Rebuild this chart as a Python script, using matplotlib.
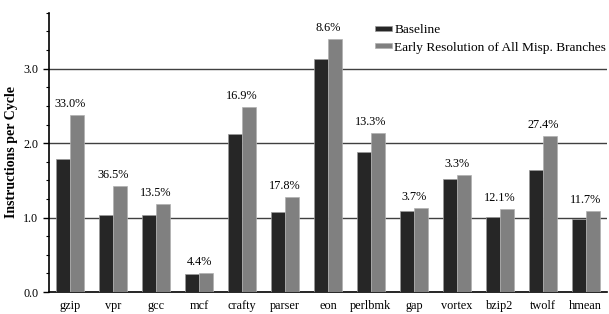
import matplotlib
matplotlib.use("Agg")
import matplotlib.pyplot as plt
import numpy as np

categories = ["gzip", "vpr", "gcc", "mcf", "crafty", "parser", "eon", "perlbmk",
              "gap", "vortex", "bzip2", "twolf", "hmean"]
baseline = [1.79, 1.04, 1.04, 0.24, 2.12, 1.075, 3.13, 1.88, 1.09, 1.52, 1.01, 1.64, 0.985]
early = [2.38, 1.42, 1.18, 0.25, 2.48, 1.27, 3.40, 2.13, 1.13, 1.575, 1.115, 2.09, 1.09]
labels = ["33.0%", "36.5%", "13.5%", "4.4%", "16.9%", "17.8%", "8.6%", "13.3%",
          "3.7%", "3.3%", "12.1%", "27.4%", "11.7%"]
yticks = [0.0, 1.0, 2.0, 3.0]

plt.rcParams['font.family'] = ['Liberation Serif', 'DejaVu Serif']

fig = plt.figure(figsize=(6.09, 3.14), dpi=100)
ax = fig.add_axes([0.080, 0.070, 0.917, 0.889])

x = np.arange(len(categories))
w = 0.33
ax.bar(x - w/2, baseline, w, color="#262626", edgecolor="#9a9a9a", linewidth=0.5,
       label="Baseline", zorder=3)
ax.bar(x + w/2, early, w, color="#808080", edgecolor="#b0b0b0", linewidth=0.5,
       label="Early Resolution of All Misp. Branches", zorder=3)

for xi, b, e, t in zip(x, baseline, early, labels):
    ax.text(xi, max(b, e) + 0.07, t, ha="center", va="bottom", fontsize=8.8)

ax.set_xlim(-0.5, len(categories) - 0.5)
ax.set_ylim(0, 3.75)
ax.set_yticks(yticks)
ax.set_yticklabels([f"{v:.1f}" for v in yticks], fontsize=8.7)
ax.set_yticks(np.arange(0, 3.76, 0.25), minor=True)
ax.set_xticks(x)
ax.set_xticklabels(categories, fontsize=8.8)
ax.tick_params(axis="x", length=0, pad=6)
ax.tick_params(axis="y", which="major", length=4, width=1, direction="out")
ax.tick_params(axis="y", which="minor", length=2.5, width=0.8, direction="out")

for v in yticks[1:]:
    ax.axhline(v, color="#404040", linewidth=1.0, zorder=1)

for s in ["top", "right"]:
    ax.spines[s].set_visible(False)
ax.spines["left"].set_linewidth(1.2)
ax.spines["bottom"].set_linewidth(1.2)

ax.set_ylabel("Instructions per Cycle", fontsize=10, fontweight="bold", labelpad=4)

leg = ax.legend(loc="upper left", bbox_to_anchor=(375/609, 1 - 24/314),
                bbox_transform=fig.transFigure, frameon=False,
                fontsize=9.6, handlelength=1.25, handleheight=0.22,
                handletextpad=0.2, labelspacing=0.42, borderaxespad=0, borderpad=0)

fig.savefig("out.png", dpi=100)
